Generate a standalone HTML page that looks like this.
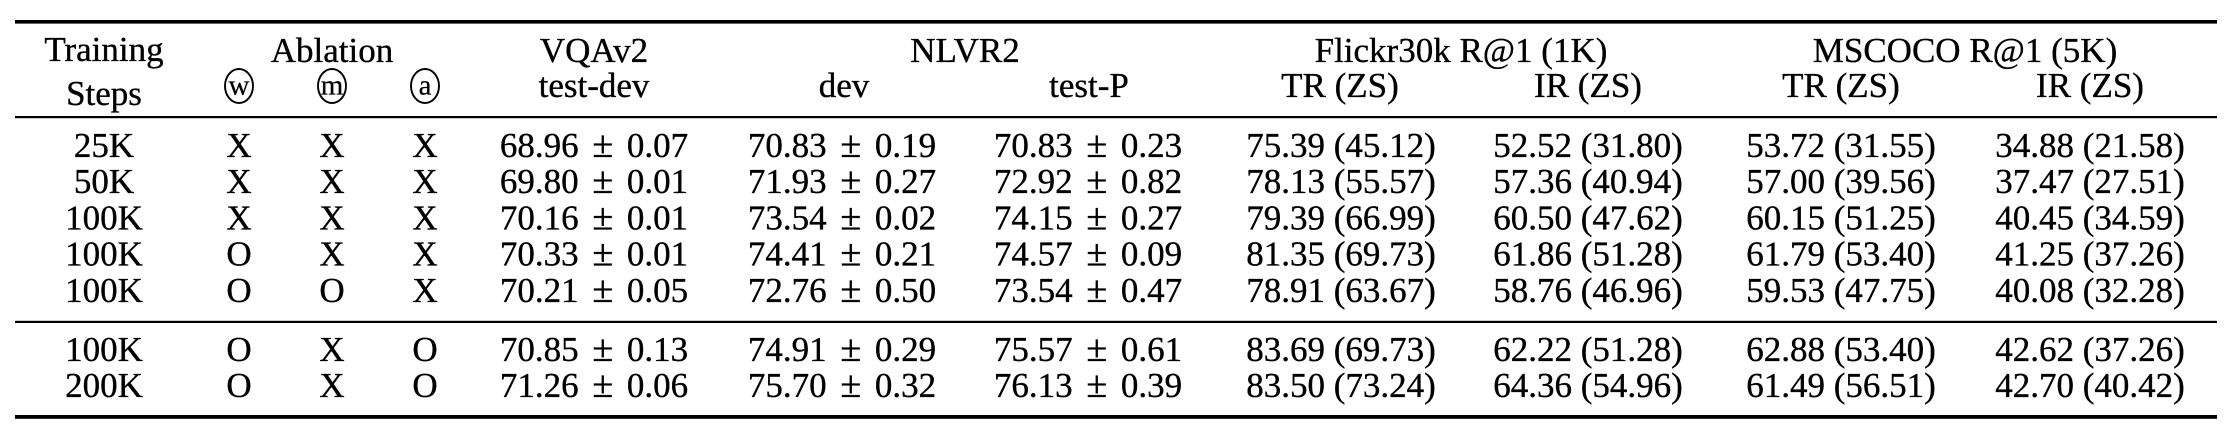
<!DOCTYPE html>
<html>
<head>
<meta charset="utf-8">
<style>
  html, body { margin: 0; padding: 0; background: #ffffff; }
  body { width: 2234px; height: 440px; overflow: hidden; }
  svg { display: block; }
  text { font-family: "Liberation Serif", "Times New Roman", serif; font-size: 35px; fill: #000; stroke: #000; stroke-width: 0.35px; }
  .c { text-anchor: middle; }
  .s { font-size: 29px; stroke-width: 0.25px; }
  .pm { font-size: 38px; }
</style>
</head>
<body>
<svg width="2234" height="440" viewBox="0 0 2234 440" xmlns="http://www.w3.org/2000/svg">
  <!-- rules -->
  <rect x="15" y="20" width="2202" height="3.6" fill="#000"/>
  <rect x="15" y="116" width="2202" height="2.2" fill="#000"/>
  <rect x="15" y="320.8" width="2202" height="2.2" fill="#000"/>
  <rect x="15" y="415" width="2202" height="3.8" fill="#000"/>

  <!-- header line 1 -->
  <text class="c" x="104" y="61">Training</text>
  <text class="c" x="332" y="62">Ablation</text>
  <text class="c" x="594" y="62">VQAv2</text>
  <text class="c" x="965" y="62">NLVR2</text>
  <text class="c" x="1461" y="62">Flickr30k R@1 (1K)</text>
  <text class="c" x="1965" y="62">MSCOCO R@1 (5K)</text>

  <!-- header line 2 -->
  <text class="c" x="104" y="105">Steps</text>
  <ellipse cx="239" cy="86" rx="14" ry="17" fill="none" stroke="#000" stroke-width="1.9"/>
  <text class="c s" x="239" y="94.5">w</text>
  <ellipse cx="332" cy="86" rx="14" ry="17" fill="none" stroke="#000" stroke-width="1.9"/>
  <text class="c s" x="332" y="94.5">m</text>
  <ellipse cx="425" cy="86" rx="14" ry="17" fill="none" stroke="#000" stroke-width="1.9"/>
  <text class="c s" x="425" y="94.5">a</text>
  <text class="c" x="594" y="97">test-dev</text>
  <text class="c" x="844" y="97">dev</text>
  <text class="c" x="1089" y="97">test-P</text>
  <text class="c" x="1340" y="97">TR (ZS)</text>
  <text class="c" x="1588" y="97">IR (ZS)</text>
  <text class="c" x="1841" y="97">TR (ZS)</text>
  <text class="c" x="2090" y="97">IR (ZS)</text>

  <!-- row 1 -->
  <g transform="translate(0,157)">
    <text class="c" x="104" y="0">25K</text>
    <text class="c" x="239" y="0">X</text>
    <text class="c" x="332" y="0">X</text>
    <text class="c" x="425" y="0">X</text>
    <text class="c" x="594" y="0">68.96 <tspan dx="5" class="pm">±</tspan> <tspan dx="5">0.07</tspan></text>
    <text class="c" x="842" y="0">70.83 <tspan dx="5" class="pm">±</tspan> <tspan dx="5">0.19</tspan></text>
    <text class="c" x="1088" y="0">70.83 <tspan dx="5" class="pm">±</tspan> <tspan dx="5">0.23</tspan></text>
    <text class="c" x="1341" y="0">75.39 (45.12)</text>
    <text class="c" x="1588" y="0">52.52 (31.80)</text>
    <text class="c" x="1841" y="0">53.72 (31.55)</text>
    <text class="c" x="2090" y="0">34.88 (21.58)</text>
  </g>
  <!-- row 2 -->
  <g transform="translate(0,193.2)">
    <text class="c" x="104" y="0">50K</text>
    <text class="c" x="239" y="0">X</text>
    <text class="c" x="332" y="0">X</text>
    <text class="c" x="425" y="0">X</text>
    <text class="c" x="594" y="0">69.80 <tspan dx="5" class="pm">±</tspan> <tspan dx="5">0.01</tspan></text>
    <text class="c" x="842" y="0">71.93 <tspan dx="5" class="pm">±</tspan> <tspan dx="5">0.27</tspan></text>
    <text class="c" x="1088" y="0">72.92 <tspan dx="5" class="pm">±</tspan> <tspan dx="5">0.82</tspan></text>
    <text class="c" x="1341" y="0">78.13 (55.57)</text>
    <text class="c" x="1588" y="0">57.36 (40.94)</text>
    <text class="c" x="1841" y="0">57.00 (39.56)</text>
    <text class="c" x="2090" y="0">37.47 (27.51)</text>
  </g>
  <!-- row 3 -->
  <g transform="translate(0,229.4)">
    <text class="c" x="104" y="0">100K</text>
    <text class="c" x="239" y="0">X</text>
    <text class="c" x="332" y="0">X</text>
    <text class="c" x="425" y="0">X</text>
    <text class="c" x="594" y="0">70.16 <tspan dx="5" class="pm">±</tspan> <tspan dx="5">0.01</tspan></text>
    <text class="c" x="842" y="0">73.54 <tspan dx="5" class="pm">±</tspan> <tspan dx="5">0.02</tspan></text>
    <text class="c" x="1088" y="0">74.15 <tspan dx="5" class="pm">±</tspan> <tspan dx="5">0.27</tspan></text>
    <text class="c" x="1341" y="0">79.39 (66.99)</text>
    <text class="c" x="1588" y="0">60.50 (47.62)</text>
    <text class="c" x="1841" y="0">60.15 (51.25)</text>
    <text class="c" x="2090" y="0">40.45 (34.59)</text>
  </g>
  <!-- row 4 -->
  <g transform="translate(0,265.6)">
    <text class="c" x="104" y="0">100K</text>
    <text class="c" x="239" y="0">O</text>
    <text class="c" x="332" y="0">X</text>
    <text class="c" x="425" y="0">X</text>
    <text class="c" x="594" y="0">70.33 <tspan dx="5" class="pm">±</tspan> <tspan dx="5">0.01</tspan></text>
    <text class="c" x="842" y="0">74.41 <tspan dx="5" class="pm">±</tspan> <tspan dx="5">0.21</tspan></text>
    <text class="c" x="1088" y="0">74.57 <tspan dx="5" class="pm">±</tspan> <tspan dx="5">0.09</tspan></text>
    <text class="c" x="1341" y="0">81.35 (69.73)</text>
    <text class="c" x="1588" y="0">61.86 (51.28)</text>
    <text class="c" x="1841" y="0">61.79 (53.40)</text>
    <text class="c" x="2090" y="0">41.25 (37.26)</text>
  </g>
  <!-- row 5 -->
  <g transform="translate(0,301.8)">
    <text class="c" x="104" y="0">100K</text>
    <text class="c" x="239" y="0">O</text>
    <text class="c" x="332" y="0">O</text>
    <text class="c" x="425" y="0">X</text>
    <text class="c" x="594" y="0">70.21 <tspan dx="5" class="pm">±</tspan> <tspan dx="5">0.05</tspan></text>
    <text class="c" x="842" y="0">72.76 <tspan dx="5" class="pm">±</tspan> <tspan dx="5">0.50</tspan></text>
    <text class="c" x="1088" y="0">73.54 <tspan dx="5" class="pm">±</tspan> <tspan dx="5">0.47</tspan></text>
    <text class="c" x="1341" y="0">78.91 (63.67)</text>
    <text class="c" x="1588" y="0">58.76 (46.96)</text>
    <text class="c" x="1841" y="0">59.53 (47.75)</text>
    <text class="c" x="2090" y="0">40.08 (32.28)</text>
  </g>
  <!-- row 6 -->
  <g transform="translate(0,361)">
    <text class="c" x="104" y="0">100K</text>
    <text class="c" x="239" y="0">O</text>
    <text class="c" x="332" y="0">X</text>
    <text class="c" x="425" y="0">O</text>
    <text class="c" x="594" y="0">70.85 <tspan dx="5" class="pm">±</tspan> <tspan dx="5">0.13</tspan></text>
    <text class="c" x="842" y="0">74.91 <tspan dx="5" class="pm">±</tspan> <tspan dx="5">0.29</tspan></text>
    <text class="c" x="1088" y="0">75.57 <tspan dx="5" class="pm">±</tspan> <tspan dx="5">0.61</tspan></text>
    <text class="c" x="1341" y="0">83.69 (69.73)</text>
    <text class="c" x="1588" y="0">62.22 (51.28)</text>
    <text class="c" x="1841" y="0">62.88 (53.40)</text>
    <text class="c" x="2090" y="0">42.62 (37.26)</text>
  </g>
  <!-- row 7 -->
  <g transform="translate(0,397)">
    <text class="c" x="104" y="0">200K</text>
    <text class="c" x="239" y="0">O</text>
    <text class="c" x="332" y="0">X</text>
    <text class="c" x="425" y="0">O</text>
    <text class="c" x="594" y="0">71.26 <tspan dx="5" class="pm">±</tspan> <tspan dx="5">0.06</tspan></text>
    <text class="c" x="842" y="0">75.70 <tspan dx="5" class="pm">±</tspan> <tspan dx="5">0.32</tspan></text>
    <text class="c" x="1088" y="0">76.13 <tspan dx="5" class="pm">±</tspan> <tspan dx="5">0.39</tspan></text>
    <text class="c" x="1341" y="0">83.50 (73.24)</text>
    <text class="c" x="1588" y="0">64.36 (54.96)</text>
    <text class="c" x="1841" y="0">61.49 (56.51)</text>
    <text class="c" x="2090" y="0">42.70 (40.42)</text>
  </g>
</svg>
</body>
</html>
